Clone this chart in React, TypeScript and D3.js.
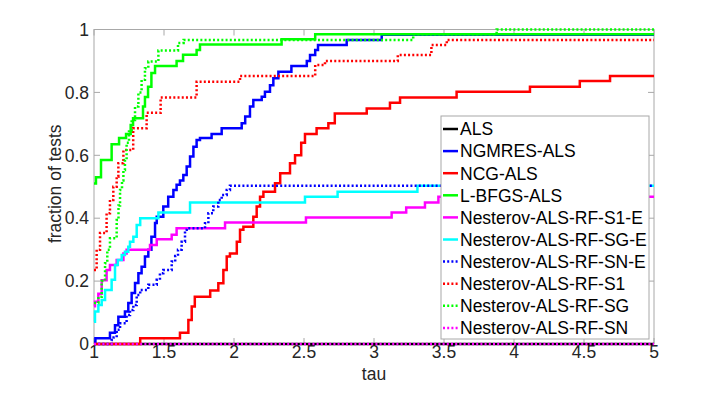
import { useEffect, useRef } from "react";
import * as d3 from "d3";

// performance profile: each series is [tau, fraction] steps (value holds from tau onward)
const alsSteps: [number, number][] = [[1.0, 0]];

const ngmresSteps: [number, number][] = [
  [1.0, 0.006], [1.01, 0.018], [1.114, 0.036], [1.15, 0.06], [1.174, 0.087], [1.221, 0.103],
  [1.245, 0.13], [1.269, 0.162], [1.293, 0.194], [1.317, 0.225], [1.34, 0.246], [1.364, 0.278],
  [1.388, 0.3], [1.41, 0.341], [1.436, 0.385], [1.448, 0.405], [1.495, 0.437], [1.53, 0.468],
  [1.567, 0.49], [1.59, 0.506], [1.614, 0.52], [1.638, 0.537], [1.662, 0.564], [1.686, 0.596],
  [1.71, 0.627], [1.733, 0.649], [1.757, 0.655], [1.84, 0.668], [1.912, 0.686], [2.055, 0.702],
  [2.08, 0.723], [2.114, 0.755], [2.138, 0.776], [2.198, 0.786], [2.221, 0.802], [2.257, 0.823],
  [2.281, 0.845], [2.317, 0.866], [2.41, 0.884], [2.52, 0.9], [2.543, 0.919], [2.58, 0.935],
  [2.6, 0.951], [2.805, 0.967], [3.055, 0.983],
];

const ncgSteps: [number, number][] = [
  [1.0, 0], [1.33, 0.018], [1.614, 0.036], [1.674, 0.076], [1.698, 0.119], [1.72, 0.15],
  [1.83, 0.17], [1.888, 0.193], [1.924, 0.235], [1.948, 0.278], [1.971, 0.288], [2.02, 0.325],
  [2.043, 0.363], [2.067, 0.373], [2.138, 0.405], [2.162, 0.437], [2.186, 0.468], [2.21, 0.484],
  [2.293, 0.511], [2.33, 0.543], [2.4, 0.575], [2.436, 0.6], [2.48, 0.64], [2.507, 0.668],
  [2.59, 0.686], [2.674, 0.702], [2.72, 0.733], [2.948, 0.749], [3.114, 0.767], [3.186, 0.784],
  [3.59, 0.802], [4.114, 0.818], [4.47, 0.836], [4.686, 0.852],
];

const lbfgsSteps: [number, number][] = [
  [1.0, 0.51], [1.014, 0.53], [1.05, 0.585], [1.126, 0.635], [1.179, 0.655], [1.229, 0.668],
  [1.262, 0.696], [1.279, 0.718], [1.35, 0.755], [1.364, 0.785], [1.386, 0.818], [1.41, 0.862],
  [1.436, 0.884], [1.59, 0.9], [1.636, 0.92], [1.733, 0.935], [1.757, 0.952], [2.34, 0.969],
  [2.58, 0.985],
];

const s1eSteps: [number, number][] = [
  [1.0, 0.12], [1.007, 0.134], [1.031, 0.16], [1.055, 0.203], [1.09, 0.235], [1.114, 0.251],
  [1.162, 0.267], [1.21, 0.288], [1.233, 0.3], [1.4, 0.315], [1.448, 0.333], [1.555, 0.347],
  [1.59, 0.368], [1.936, 0.386], [2.514, 0.402], [3.126, 0.418], [3.23, 0.434], [3.364, 0.45],
  [3.46, 0.468],
];

const sgeSteps: [number, number][] = [
  [1.0, 0.071], [1.007, 0.103], [1.031, 0.124], [1.055, 0.14], [1.079, 0.172], [1.126, 0.204],
  [1.15, 0.251], [1.17, 0.267], [1.198, 0.283], [1.221, 0.293], [1.245, 0.309], [1.257, 0.325],
  [1.281, 0.341], [1.305, 0.378], [1.33, 0.4], [1.46, 0.418], [1.686, 0.45], [2.507, 0.468],
  [2.74, 0.484], [3.31, 0.503],
];

const sneSteps: [number, number][] = [
  [1.0, 0], [1.126, 0.013], [1.14, 0.021], [1.162, 0.045], [1.186, 0.066], [1.233, 0.092],
  [1.257, 0.108], [1.281, 0.124], [1.305, 0.156], [1.33, 0.172], [1.388, 0.188], [1.448, 0.204],
  [1.471, 0.225], [1.495, 0.235], [1.555, 0.262], [1.58, 0.28], [1.6, 0.3], [1.626, 0.325],
  [1.65, 0.363], [1.662, 0.368], [1.793, 0.384], [1.817, 0.416], [1.852, 0.437], [1.888, 0.458],
  [1.912, 0.474], [1.948, 0.49], [1.971, 0.503],
];

const s1Steps: [number, number][] = [
  [1.0, 0.235], [1.019, 0.3], [1.043, 0.353], [1.09, 0.416], [1.114, 0.458], [1.138, 0.5],
  [1.162, 0.532], [1.174, 0.575], [1.21, 0.617], [1.28, 0.686], [1.376, 0.735], [1.476, 0.784],
  [1.733, 0.834], [2.043, 0.852], [2.58, 0.887], [2.65, 0.9], [3.17, 0.919], [3.41, 0.951],
  [3.52, 0.967],
];

const sgSteps: [number, number][] = [
  [1.0, 0.13], [1.031, 0.15], [1.055, 0.2], [1.079, 0.257], [1.095, 0.3], [1.114, 0.336],
  [1.162, 0.394], [1.175, 0.44], [1.186, 0.49], [1.2, 0.52], [1.21, 0.553], [1.221, 0.585],
  [1.233, 0.64], [1.25, 0.68], [1.269, 0.712], [1.293, 0.755], [1.317, 0.8], [1.34, 0.84],
  [1.364, 0.877], [1.388, 0.898], [1.46, 0.933], [1.6, 0.957], [1.64, 0.967], [3.28, 0.985],
  [3.876, 1.0],
];

const snSteps: [number, number][] = [[1.0, 0]];

const seriesNames = [
  "ALS", "NGMRES-ALS", "NCG-ALS", "L-BFGS-ALS", "Nesterov-ALS-RF-S1-E",
  "Nesterov-ALS-RF-SG-E", "Nesterov-ALS-RF-SN-E", "Nesterov-ALS-RF-S1",
  "Nesterov-ALS-RF-SG", "Nesterov-ALS-RF-SN",
];
const seriesSteps = [
  alsSteps, ngmresSteps, ncgSteps, lbfgsSteps, s1eSteps,
  sgeSteps, sneSteps, s1Steps, sgSteps, snSteps,
];
const seriesColors = [
  "#000000", "#0000ff", "#ff0000", "#00ff00", "#ff00ff",
  "#00ffff", "#0000ff", "#ff0000", "#00ff00", "#ff00ff",
];
const seriesDotted = [false, false, false, false, false, false, true, true, true, true];

const xTicks = [1, 1.5, 2, 2.5, 3, 3.5, 4, 4.5, 5];
const yTicks = [0, 0.2, 0.4, 0.6, 0.8, 1];

export default function App() {
  const ref = useRef<SVGSVGElement | null>(null);

  useEffect(() => {
    const el = ref.current;
    if (!el) return;
    const width = 723;
    const height = 395;
    const margin = { top: 29.5, right: 69, bottom: 51, left: 94 };
    const innerW = width - margin.left - margin.right;
    const innerH = height - margin.top - margin.bottom;
    const font = "'Liberation Sans', Arial, Helvetica, sans-serif";
    const textColor = "#262626";
    const axisColor = "#a8a8a8";

    const svg = d3.select(el);
    svg.selectAll("*").remove();

    const x = d3.scaleLinear().domain([1, 5]).range([0, innerW]);
    const y = d3.scaleLinear().domain([0, 1]).range([innerH, 0]);

    const g = svg.append("g").attr("transform", `translate(${margin.left},${margin.top})`);

    svg.append("defs").append("clipPath").attr("id", "plot-clip")
      .append("rect").attr("x", -2).attr("y", -2).attr("width", innerW + 4).attr("height", innerH + 4);

    // box + inward ticks on all four sides
    g.append("rect")
      .attr("width", innerW).attr("height", innerH)
      .attr("fill", "white").attr("stroke", axisColor).attr("stroke-width", 1);

    const tickLen = 6;
    xTicks.forEach(t => {
      g.append("line").attr("x1", x(t)).attr("x2", x(t)).attr("y1", innerH).attr("y2", innerH - tickLen)
        .attr("stroke", axisColor);
      g.append("line").attr("x1", x(t)).attr("x2", x(t)).attr("y1", 0).attr("y2", tickLen)
        .attr("stroke", axisColor);
      g.append("text").attr("x", x(t)).attr("y", innerH + 14)
        .attr("text-anchor", "middle").attr("font-family", font).attr("font-size", 17.5)
        .attr("fill", textColor).text(String(t));
    });
    yTicks.forEach(t => {
      g.append("line").attr("x1", 0).attr("x2", tickLen).attr("y1", y(t)).attr("y2", y(t))
        .attr("stroke", axisColor);
      g.append("line").attr("x1", innerW).attr("x2", innerW - tickLen).attr("y1", y(t)).attr("y2", y(t))
        .attr("stroke", axisColor);
      g.append("text").attr("x", -5).attr("y", y(t) + 6.2)
        .attr("text-anchor", "end").attr("font-family", font).attr("font-size", 17.5)
        .attr("fill", textColor).text(String(t));
    });

    // axis labels
    svg.append("text")
      .attr("x", margin.left + innerW / 2).attr("y", 380)
      .attr("text-anchor", "middle").attr("font-family", font).attr("font-size", 17.5)
      .attr("fill", textColor).text("tau");
    svg.append("text")
      .attr("transform", `translate(61,${margin.top + innerH / 2 - 3}) rotate(-90)`)
      .attr("text-anchor", "middle").attr("font-family", font).attr("font-size", 17.5)
      .attr("fill", textColor).text("fraction of tests");

    // step lines
    const line = d3.line<[number, number]>()
      .x(d => x(d[0]))
      .y(d => y(d[1]))
      .curve(d3.curveStepAfter);

    const lines = g.append("g").attr("clip-path", "url(#plot-clip)");
    seriesSteps.forEach((steps, i) => {
      const pts = [...steps, [5, steps[steps.length - 1][1]] as [number, number]];
      lines.append("path")
        .datum(pts)
        .attr("d", line)
        .attr("fill", "none")
        .attr("stroke", seriesColors[i])
        .attr("stroke-width", 2.5)
        .attr("stroke-dasharray", seriesDotted[i] ? "2,2.2" : null);
    });

    // legend
    const lg = svg.append("g");
    const lx = 441, ly = 116, lw = 208, lh = 223;
    lg.append("rect").attr("x", lx).attr("y", ly).attr("width", lw).attr("height", lh)
      .attr("fill", "white").attr("stroke", axisColor).attr("stroke-width", 1);
    seriesNames.forEach((name, i) => {
      const cy = 129 + i * 22.1;
      lg.append("line").attr("x1", 443).attr("x2", 458).attr("y1", cy).attr("y2", cy)
        .attr("stroke", seriesColors[i]).attr("stroke-width", 2.5)
        .attr("stroke-dasharray", seriesDotted[i] ? "2,2.2" : null);
      lg.append("text").attr("x", 460).attr("y", cy + 6.3)
        .attr("font-family", font).attr("font-size", 17.5).attr("fill", "#000")
        .text(name);
    });
  }, []);

  return (
    <svg
      ref={ref}
      width={723}
      height={395}
      style={{ position: "absolute", left: 0, top: 0, background: "white" }}
    />
  );
}
